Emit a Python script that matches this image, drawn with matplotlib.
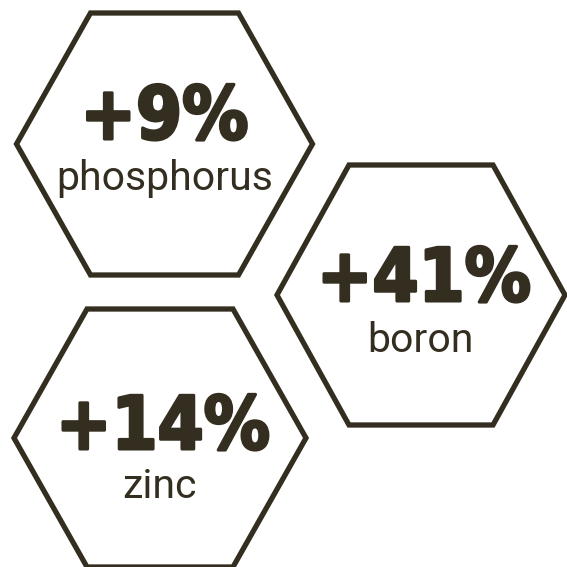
import numpy as np
import matplotlib
matplotlib.use("Agg")
import matplotlib.pyplot as plt
import matplotlib.patheffects as pe
from matplotlib.patches import Polygon

# data
nutrients = ["phosphorus", "boron", "zinc"]
changes = [9, 41, 14]

# layout (pixel coords, y down)
centers = [(164.5, 144), (421, 295), (160, 438)]
half_w = [148, 144, 146]
half_h = [131, 130, 129]
value_xy = [(164.5, 139), (424, 301), (163, 449)]   # baseline of the big number
label_xy = [(165, 190), (420.5, 352), (159, 498)]    # baseline of the nutrient name
ink = "#342e21"

fig = plt.figure(figsize=(5.67, 5.67), dpi=100)
ax = fig.add_axes([0, 0, 1, 1])
ax.set_xlim(0, 567)
ax.set_ylim(567, 0)
ax.axis("off")


def hexagon(cx, cy, w, h):
    # pointy left/right, flat top/bottom
    return np.array([[cx - w, cy], [cx - w / 2, cy - h], [cx + w / 2, cy - h],
                     [cx + w, cy], [cx + w / 2, cy + h], [cx - w / 2, cy + h]])


heavy = [pe.withStroke(linewidth=2.2, foreground=ink)]  # fake a black weight

for i, (name, val) in enumerate(zip(nutrients, changes)):
    cx, cy = centers[i]
    ax.add_patch(Polygon(hexagon(cx, cy, half_w[i], half_h[i]), closed=True,
                         facecolor="white", edgecolor=ink, linewidth=3.8,
                         joinstyle="miter"))
    ax.text(*value_xy[i], f"+{val}%", ha="center", va="baseline", color=ink,
            fontsize=53, fontweight="bold", fontstretch="condensed",
            family=["DejaVu Sans"], path_effects=heavy)
    ax.text(*label_xy[i], name, ha="center", va="baseline", color=ink,
            fontsize=29.5, family=["Roboto", "DejaVu Sans"])

fig.savefig("out.png", dpi=100)
